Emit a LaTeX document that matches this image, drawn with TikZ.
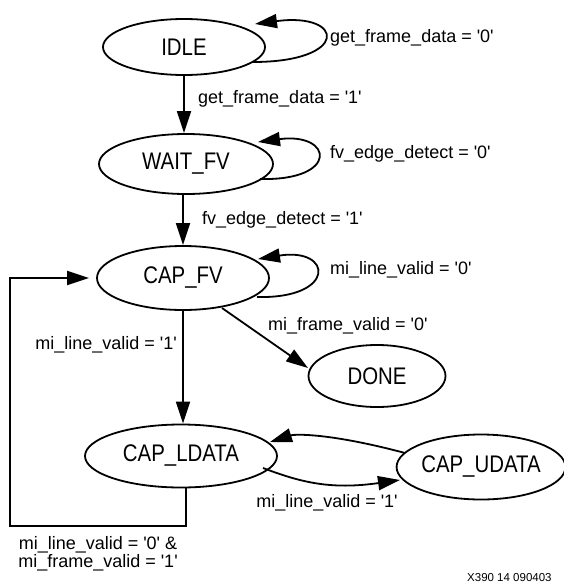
\documentclass[tikz,border=0pt]{standalone}
\usepackage{fontspec}
\setmainfont{Liberation Sans}
\newfontfamily\statefont{Liberation Sans}[FakeStretch=0.85]
\usetikzlibrary{arrows.meta,shapes.geometric,calc}
\newcommand\myq{\textquotesingle}
\begin{document}
\begin{tikzpicture}[x=1pt,y=-1pt,
  st/.style={ellipse,draw,line width=1.8pt,inner sep=0pt,font=\statefont\fontsize{24}{24}\selectfont},
  lbl/.style={font=\fontsize{18}{18}\selectfont,inner sep=0pt},
  arr/.style={line width=1.8pt,-{Triangle[length=22pt,width=14pt]}}]
\useasboundingbox (0,0) rectangle (564,583);

\node[st,minimum width=162pt,minimum height=56pt] (idle)   at (184,47)  {IDLE};
\node[st,minimum width=174pt,minimum height=60pt] (wait)   at (186,164) {WAIT\_FV};
\node[st,minimum width=172pt,minimum height=64pt] (capfv)  at (183,278) {CAP\_FV};
\node[st,minimum width=137pt,minimum height=62pt] (done)   at (377,376) {DONE};
\node[st,minimum width=192pt,minimum height=63pt] (caplda) at (181,456) {CAP\_LDATA};
\node[st,minimum width=168pt,minimum height=65pt] (capuda) at (481,467) {CAP\_UDATA};

% self loops
\draw[arr] ([shift={(69,15)}]idle.center) .. controls +(97,0) and +(90,-12) .. ([shift={(71,-23)}]idle.center);
\draw[arr] ([shift={(74,15)}]wait.center) .. controls +(80,2) and +(75,-10) .. ([shift={(72,-22)}]wait.center);
\draw[arr] ([shift={(74,19)}]capfv.center) .. controls +(80,2) and +(75,-12) .. ([shift={(75,-19)}]capfv.center);

% straight transitions
\draw[arr] (idle.south) -- (idle.south |- wait.north);
\draw[arr] (capfv.north |- wait.south) -- (capfv.north);
\draw[arr] (capfv.south) -- (capfv.south |- caplda.north);
\draw[arr] ([shift={(39,30)}]capfv.center) -- ([shift={(-69,-8)}]done.center);

% CAP_LDATA <-> CAP_UDATA
\draw[arr] ([shift={(-76,-14)}]capuda.center) .. controls +(-75,-20) and +(25,-8) .. ([shift={(89,-14)}]caplda.center);
\draw[arr] ([shift={(82,12)}]caplda.center) .. controls +(37,14) and +(-70,10) .. ([shift={(-81,13)}]capuda.center);

% feedback
\coordinate (fb) at (10,526);
\draw[arr] ([shift={(5,32)}]caplda.center) |- (fb) |- ([shift={(-94,0)}]capfv.center);

% labels
\node[lbl,anchor=west] (l1) at (330,38)  {get\_frame\_data = \myq0\myq};
\node[lbl,anchor=west] (l2) at (198,99)  {get\_frame\_data = \myq1\myq};
\node[lbl,anchor=west] (l3) at (330,154) {fv\_edge\_detect = \myq0\myq};
\node[lbl,anchor=west] (l4) at (202,220) {fv\_edge\_detect = \myq1\myq};
\node[lbl,anchor=west] (l5) at (330,270) {mi\_line\_valid = \myq0\myq};
\node[lbl,anchor=west] (l6) at (268,326) {mi\_frame\_valid = \myq0\myq};
\node[lbl,anchor=east] (l7) at (177,345) {mi\_line\_valid = \myq1\myq};
\node[lbl] (l8) at (327,503) {mi\_line\_valid = \myq1\myq};
\node[lbl,align=center] (l9) at (98,554) {mi\_line\_valid = \myq0\myq\ \&\\mi\_frame\_valid = \myq1\myq};
\node[font=\fontsize{11.5}{12}\selectfont,inner sep=0pt,anchor=west] (fig) at (467,578) {X390 14 090403};
\end{tikzpicture}
\end{document}
